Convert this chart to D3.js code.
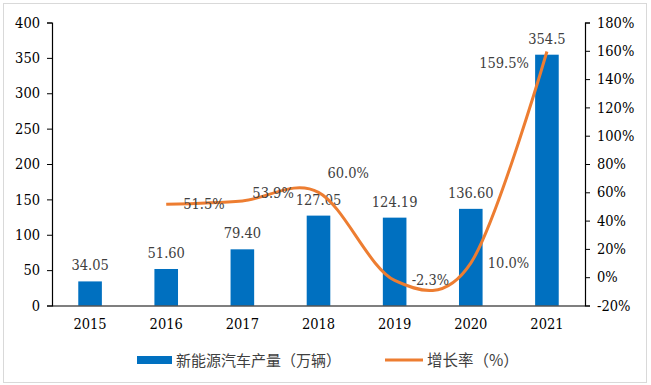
<!DOCTYPE html>
<html>
<head>
<meta charset="utf-8">
<script src="https://cdn.jsdelivr.net/npm/d3@7"></script>
<style>
  body { margin: 0; background: #fff; }
</style>
</head>
<body>
<svg id="chart" width="651" height="385"></svg>
<script>
// data
var years = ["2015", "2016", "2017", "2018", "2019", "2020", "2021"];
var output = [34.05, 51.60, 79.40, 127.05, 124.19, 136.60, 354.5];
var outputLabels = ["34.05", "51.60", "79.40", "127.05", "124.19", "136.60", "354.5"];
var growth = [null, 51.5, 53.9, 60.0, -2.3, 10.0, 159.5];
var growthLabels = ["", "51.5%", "53.9%", "60.0%", "-2.3%", "10.0%", "159.5%"];
var leftTicks = [0, 50, 100, 150, 200, 250, 300, 350, 400];
var rightTicks = [-20, 0, 20, 40, 60, 80, 100, 120, 140, 160, 180];

var SERIF = "'DejaVu Serif Condensed', 'DejaVu Serif', serif";
var CJK = "'Noto Sans CJK SC', sans-serif";
var FS = "14.5px";

var svg = d3.select("#chart");
var margin = {top: 22.5, left: 52, right: 66, bottom: 79.5};
var w = 651 - margin.left - margin.right;
var h = 385 - margin.top - margin.bottom;

// outer frame
svg.append("rect")
  .attr("x", 3.5).attr("y", 3.5)
  .attr("width", 643).attr("height", 379)
  .attr("fill", "none").attr("stroke", "#d9d9d9");

var g = svg.append("g").attr("transform", "translate(" + margin.left + "," + margin.top + ")");

var x = d3.scaleBand().domain(years).range([0, w]).paddingInner(0.69).paddingOuter(0.345);
var y = d3.scaleLinear().domain([0, 400]).range([h, 0]);
var y2 = d3.scaleLinear().domain([-20, 180]).range([h, 0]);

// bars
g.selectAll("rect.bar")
  .data(output)
  .enter().append("rect")
  .attr("class", "bar")
  .attr("x", function(d, i) { return x(years[i]); })
  .attr("y", function(d) { return y(d); })
  .attr("width", x.bandwidth())
  .attr("height", function(d) { return h - y(d); })
  .attr("fill", "#0070c0");

// bar labels
g.selectAll("text.blabel")
  .data(output)
  .enter().append("text")
  .attr("class", "blabel")
  .attr("x", function(d, i) { return x(years[i]) + x.bandwidth() / 2; })
  .attr("y", function(d) { return y(d) - 11; })
  .attr("text-anchor", "middle")
  .style("font-family", SERIF)
  .style("font-size", FS)
  .attr("fill", "#404040")
  .text(function(d, i) { return outputLabels[i]; });

// axes
var yAxis = g.append("g")
  .call(d3.axisLeft(y).tickValues(leftTicks).tickSize(5).tickPadding(7));
var y2Axis = g.append("g")
  .attr("transform", "translate(" + w + ",0)")
  .call(d3.axisRight(y2).tickValues(rightTicks).tickSize(5).tickPadding(7).tickFormat(function(d) { return d + "%"; }));
var xAxis = g.append("g")
  .attr("transform", "translate(0," + h + ")")
  .call(d3.axisBottom(x).tickSize(0).tickPadding(13));

[yAxis, y2Axis, xAxis].forEach(function(a) {
  a.select(".domain").attr("stroke", "#000").attr("stroke-width", 1.2);
  a.selectAll(".tick line").attr("stroke", "#000");
  a.selectAll(".tick text").attr("fill", "#000")
    .style("font-family", SERIF).style("font-size", FS);
});
xAxis.select(".domain").attr("d", "M0,0.5H" + w);

// growth line
var pts = growth.map(function(d, i) { return {i: i, v: d}; }).filter(function(p) { return p.v !== null; });
var line = d3.line()
  .x(function(p) { return x(years[p.i]) + x.bandwidth() / 2; })
  .y(function(p) { return y2(p.v); })
  .curve(d3.curveCatmullRom.alpha(0));
g.append("path")
  .datum(pts)
  .attr("d", line)
  .attr("fill", "none")
  .attr("stroke", "#ed7d31")
  .attr("stroke-width", 3);

// growth labels (mostly right of point, last one left)
g.selectAll("text.glabel")
  .data(pts)
  .enter().append("text")
  .attr("class", "glabel")
  .attr("x", function(p, k) {
    var cx = x(years[p.i]) + x.bandwidth() / 2;
    if (p.i === 2) return cx + 10;
    if (p.i === 3) return cx + 9;
    return k === pts.length - 1 ? cx - 18 : cx + 17;
  })
  .attr("y", function(p, k) {
    var cy = y2(p.v);
    if (k === pts.length - 1) return cy + 16;
    if (p.i === 2) return cy - 3;
    if (p.i === 3) return cy - 14;
    return cy + 5;
  })
  .attr("text-anchor", function(p, k) { return k === pts.length - 1 ? "end" : "start"; })
  .style("font-family", SERIF)
  .style("font-size", FS)
  .attr("fill", "#404040")
  .text(function(p) { return growthLabels[p.i]; });

// legend
var lg = svg.append("g").attr("transform", "translate(0,360)");
lg.append("rect").attr("x", 137).attr("y", -4).attr("width", 35).attr("height", 8).attr("fill", "#0070c0");
lg.append("text").attr("x", 176).attr("y", 5.5)
  .style("font-family", CJK).style("font-size", "15px").attr("fill", "#404040").text("新能源汽车产量（万辆）");
lg.append("line").attr("x1", 385).attr("x2", 423).attr("y1", 0).attr("y2", 0)
  .attr("stroke", "#ed7d31").attr("stroke-width", 3);
lg.append("text").attr("x", 427).attr("y", 5.5)
  .style("font-family", CJK).style("font-size", "15.5px").attr("fill", "#404040").text("增长率（%）");
</script>
</body>
</html>
